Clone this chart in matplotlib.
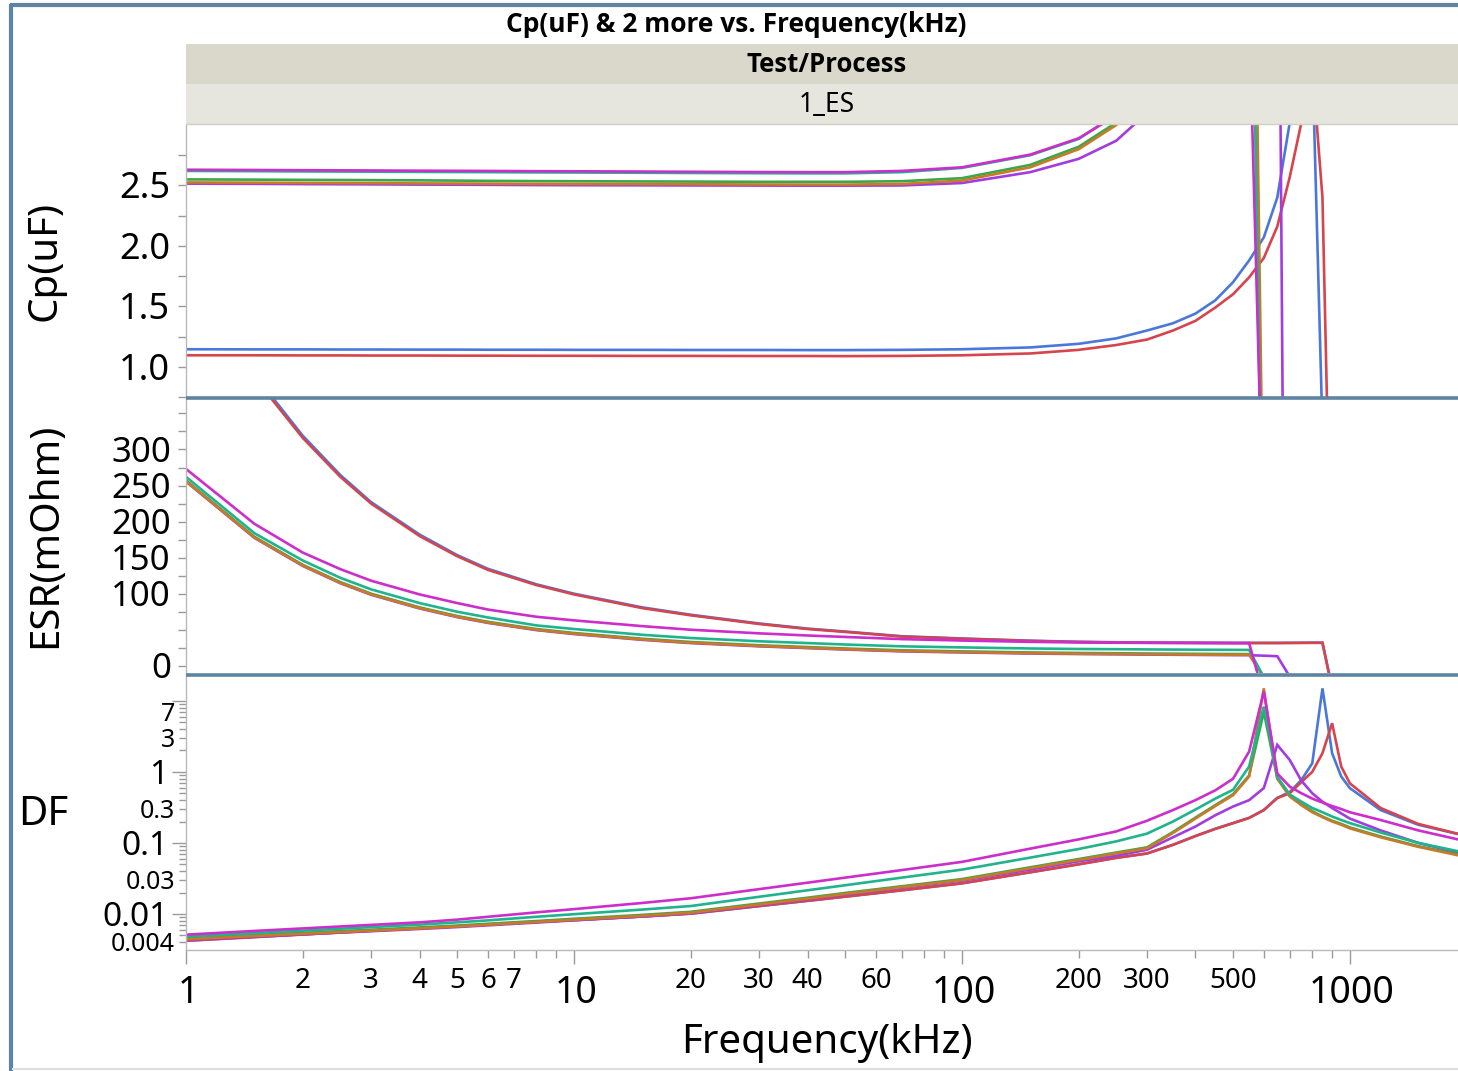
import matplotlib
matplotlib.use("Agg")
import matplotlib.pyplot as plt
from matplotlib.lines import Line2D
from matplotlib.patches import Rectangle
from matplotlib.transforms import offset_copy
from matplotlib.ticker import FixedLocator, NullFormatter

plt.rcParams['font.family'] = ['Noto Sans', 'DejaVu Sans']

W, H, DPI = 1458, 1071, 100

# ---------------- data ----------------
freq_khz = [1, 1.5, 2, 2.5, 3, 4, 5, 6, 8, 10, 15, 20, 30, 40, 50, 70, 100, 150, 200, 250,
            300, 350, 400, 450, 500, 550, 600, 650, 700, 750, 800, 850, 900, 950, 1000, 1200, 1500, 2000]

cp_blue = [1.145, 1.144, 1.144, 1.143, 1.143, 1.142, 1.142, 1.141, 1.141, 1.140, 1.140, 1.139, 1.139, 1.138, 1.138, 1.140, 1.145, 1.160, 1.190, 1.235,
           1.300, 1.360, 1.440, 1.550, 1.700, 1.880, 2.070, 2.400, 3.020, 3.600, 3.580, 0.480, -0.500, -0.900, -0.800, -0.600, -0.450, -0.300]
cp_red = [1.095, 1.095, 1.094, 1.094, 1.093, 1.093, 1.092, 1.092, 1.091, 1.091, 1.090, 1.090, 1.089, 1.089, 1.088, 1.090, 1.095, 1.110, 1.140, 1.180,
          1.225, 1.300, 1.380, 1.490, 1.600, 1.740, 1.900, 2.160, 2.570, 3.020, 3.490, 2.400, -1.200, -2.000, -1.300, -0.700, -0.500, -0.350]
cp_purple = [2.515, 2.513, 2.511, 2.510, 2.509, 2.507, 2.506, 2.505, 2.503, 2.502, 2.501, 2.500, 2.499, 2.498, 2.498, 2.500, 2.520, 2.610, 2.720, 2.870,
             3.100, 3.500, 3.900, 4.300, 4.800, 5.500, 6.100, 6.700, -7.300, -3.500, -2.400, -1.900, -1.600, -1.400, -1.250, -0.900, -0.650, -0.450]
cp_green = [2.550, 2.548, 2.546, 2.545, 2.544, 2.542, 2.540, 2.538, 2.536, 2.535, 2.533, 2.532, 2.530, 2.530, 2.530, 2.535, 2.560, 2.670, 2.820, 3.020,
            3.350, 3.700, 4.100, 4.600, 5.300, 6.400, -1.500, -2.300, -1.800, -1.450, -1.250, -1.100, -1.000, -0.920, -0.860, -0.660, -0.500, -0.360]
cp_orange = [2.525, 2.523, 2.521, 2.520, 2.519, 2.517, 2.516, 2.515, 2.513, 2.512, 2.511, 2.510, 2.508, 2.507, 2.507, 2.512, 2.540, 2.650, 2.800, 3.000,
             3.350, 3.750, 4.200, 4.800, 5.800, 7.850, -0.650, -2.300, -1.800, -1.450, -1.250, -1.100, -1.000, -0.920, -0.860, -0.660, -0.500, -0.360]
cp_teal = [2.620, 2.618, 2.616, 2.615, 2.614, 2.612, 2.611, 2.610, 2.608, 2.607, 2.605, 2.603, 2.601, 2.600, 2.600, 2.610, 2.645, 2.750, 2.885, 3.090,
           3.400, 3.700, 4.000, 4.400, 5.000, 6.000, -1.200, -2.200, -1.700, -1.400, -1.200, -1.050, -0.950, -0.900, -0.850, -0.650, -0.500, -0.350]
cp_magenta = [2.630, 2.628, 2.626, 2.625, 2.624, 2.622, 2.621, 2.620, 2.618, 2.617, 2.615, 2.613, 2.611, 2.610, 2.610, 2.620, 2.650, 2.755, 2.890, 3.080,
              3.300, 3.450, 3.600, 3.750, 3.850, 3.960, -0.540, -2.000, -1.600, -1.300, -1.100, -1.000, -0.900, -0.850, -0.800, -0.600, -0.450, -0.300]

esr_blue = [565, 404, 319, 264.5, 227, 182, 153.5, 134.5, 113, 100, 81, 70.8, 58.7, 51.6, 47.5, 41, 37.9, 34.8, 33.3, 32.6,
            32.3, 32.1, 32.0, 31.9, 31.8, 31.8, 31.8, 31.8, 31.9, 32.0, 32.1, 32.1, -30, -40, -44, -48, -50, -52]
esr_red = [560, 400, 316, 262, 225, 180, 152, 133, 112, 99, 80, 70, 58, 51, 47, 40.5, 37.5, 34.5, 33, 32.3,
           32, 31.8, 31.7, 31.6, 31.5, 31.5, 31.5, 31.5, 31.6, 31.7, 31.8, 31.8, -32, -40, -44, -48, -50, -52]
esr_purple = [255.5, 177.5, 138.5, 114.5, 98.5, 79.5, 67.5, 59.5, 49.5, 44, 36, 31.5, 27, 24.5, 22.5, 20, 18.5, 17, 16.3, 15.9,
              15.5, 15.3, 15.1, 14.9, 14.8, 14.7, 14, 13.3, -15, -28, -33, -35, -36, -37, -38, -39, -40, -41]
esr_green = [257, 179, 140, 116, 100, 81, 69, 61, 51, 45.5, 37.5, 33, 28.5, 26, 24, 21.5, 20, 18.5, 17.8, 17.4,
             17, 16.8, 16.6, 16.4, 16.3, 16.2, -15, -28, -33, -35, -36, -37, -38, -38, -39, -40, -41, -42]
esr_orange = [256, 178, 139, 115, 99, 80, 68, 60, 50, 44.5, 36.5, 32, 27.5, 25, 23, 20.5, 19, 17.5, 16.8, 16.4,
              16, 15.8, 15.6, 15.4, 15.3, 15.2, -15, -28, -33, -35, -36, -37, -38, -38, -39, -40, -41, -42]
esr_teal = [262, 184, 146, 122, 106, 87, 75, 67, 56, 51, 43, 38.5, 34, 31.5, 29.5, 27, 25.5, 24, 23.3, 23,
            22.7, 22.5, 22.3, 22.2, 22.1, 22, -16, -30, -35, -37, -38, -39, -40, -40, -41, -42, -43, -44]
esr_magenta = [273, 197, 157, 134, 118, 99, 87, 78, 68, 63, 55, 50, 45, 42, 40, 37, 35, 33.2, 32.3, 32,
               31.8, 31.7, 31.6, 31.5, 31.4, 31.4, -42, -48, -50, -51, -52, -52, -53, -53, -54, -55, -56, -57]

df_blue = [0.0042, 0.00473, 0.00515, 0.0055, 0.0058, 0.0063, 0.0067, 0.0071, 0.0077, 0.0082, 0.0092, 0.0101, 0.0129, 0.0153, 0.0175, 0.0215, 0.027, 0.0386, 0.050, 0.0617,
           0.071, 0.094, 0.125, 0.158, 0.19, 0.225, 0.29, 0.43, 0.52, 0.77, 1.32, 15.0, 1.83, 0.86, 0.59, 0.29, 0.18, 0.125]
df_red = [0.00418, 0.0047, 0.00512, 0.00547, 0.00577, 0.00627, 0.00667, 0.00707, 0.00767, 0.00817, 0.00917, 0.01007, 0.01287, 0.01527, 0.01747, 0.02147, 0.0269, 0.0385, 0.0499, 0.0615,
          0.0708, 0.0938, 0.1247, 0.1575, 0.1895, 0.2245, 0.289, 0.428, 0.50, 0.72, 1.0, 1.83, 4.85, 1.19, 0.69, 0.31, 0.185, 0.125]
df_purple = [0.0043, 0.00478, 0.00515, 0.00545, 0.0057, 0.00613, 0.00652, 0.0069, 0.00755, 0.0081, 0.0092, 0.0102, 0.0133, 0.016, 0.0187, 0.0233, 0.0294, 0.042, 0.055, 0.066,
             0.080, 0.12, 0.17, 0.245, 0.325, 0.40, 0.59, 2.4, 1.47, 0.75, 0.50, 0.38, 0.31, 0.26, 0.22, 0.15, 0.10, 0.068]
df_green = [0.00453, 0.00503, 0.00541, 0.00572, 0.00598, 0.00644, 0.00685, 0.00726, 0.00793, 0.00853, 0.00968, 0.0107, 0.0140, 0.0169, 0.0197, 0.0245, 0.0309, 0.0453, 0.0592, 0.0731,
            0.0865, 0.142, 0.227, 0.34, 0.485, 0.89, 7.0, 0.82, 0.46, 0.35, 0.28, 0.235, 0.205, 0.185, 0.165, 0.123, 0.09, 0.065]
df_orange = [0.0044, 0.00488, 0.00525, 0.00555, 0.00581, 0.00625, 0.00665, 0.00705, 0.0077, 0.00828, 0.0094, 0.0104, 0.0136, 0.0164, 0.0191, 0.0238, 0.030, 0.044, 0.0575, 0.071,
             0.084, 0.138, 0.22, 0.33, 0.47, 0.86, 15.0, 0.80, 0.45, 0.34, 0.27, 0.23, 0.20, 0.18, 0.16, 0.12, 0.088, 0.063]
df_teal = [0.0048, 0.00536, 0.00581, 0.00618, 0.00652, 0.00706, 0.0076, 0.0081, 0.0091, 0.0099, 0.0115, 0.0129, 0.0174, 0.0215, 0.0253, 0.0324, 0.042, 0.062, 0.082, 0.105,
           0.135, 0.20, 0.295, 0.42, 0.56, 1.19, 8.3, 0.85, 0.48, 0.38, 0.31, 0.27, 0.235, 0.21, 0.19, 0.14, 0.10, 0.072]
df_magenta = [0.0051, 0.00575, 0.00624, 0.00665, 0.0070, 0.0076, 0.0083, 0.0091, 0.0105, 0.01167, 0.01425, 0.0166, 0.0223, 0.0275, 0.0324, 0.0414, 0.054, 0.083, 0.112, 0.145,
              0.205, 0.29, 0.40, 0.55, 0.80, 1.93, 13.5, 0.95, 0.62, 0.50, 0.42, 0.37, 0.33, 0.30, 0.27, 0.21, 0.15, 0.105]

series_names = ['blue', 'red', 'purple', 'green', 'orange', 'teal', 'magenta']
cp_series = [cp_blue, cp_red, cp_purple, cp_green, cp_orange, cp_teal, cp_magenta]
esr_series = [esr_blue, esr_red, esr_purple, esr_green, esr_orange, esr_teal, esr_magenta]
df_series = [df_blue, df_red, df_purple, df_green, df_orange, df_teal, df_magenta]

cp_tick_vals = [1.0, 1.5, 2.0, 2.5]
cp_tick_labels = ['1.0', '1.5', '2.0', '2.5']
esr_tick_vals = [0, 100, 150, 200, 250, 300]
esr_tick_labels = ['0', '100', '150', '200', '250', '300']
df_major_vals = [0.01, 0.1, 1]
df_major_labels = ['0.01', '0.1', '1']
df_minor_vals = [0.004, 0.03, 0.3, 3, 7]
df_minor_labels = ['0.004', '0.03', '0.3', '3', '7']
x_major_vals = [1, 10, 100, 1000]
x_major_labels = ['1', '10', '100', '1000']
x_minor_vals = [2, 3, 4, 5, 6, 7, 20, 30, 40, 60, 200, 300, 500]
x_minor_labels = ['2', '3', '4', '5', '6', '7', '20', '30', '40', '60', '200', '300', '500']

# ---------------- styles ----------------
colors = {'blue': '#4a78da', 'red': '#d6444d', 'purple': '#a23ce0', 'green': '#3aa84a',
          'orange': '#c97a28', 'teal': '#20b38e', 'magenta': '#cc2ecc'}
FRAME = '#5d85a3'
TICKC = '#9a9a9a'
SPINEC = '#b8b8b8'
BOLD_FAMILY = ['Open Sans', 'Lato', 'DejaVu Sans']

fig = plt.figure(figsize=(W / DPI, H / DPI), dpi=DPI)
fig.patch.set_facecolor('white')


def fx(px):
    return px / W


def fy(py):
    return 1 - py / H


def box(left, top, right, bottom):
    return [fx(left), fy(bottom), (right - left) / W, (bottom - top) / H]


ax_cp = fig.add_axes(box(186, 125, 1458, 397))
ax_esr = fig.add_axes(box(186, 399, 1458, 673))
ax_df = fig.add_axes(box(186, 676, 1458, 950))

for ax in (ax_cp, ax_esr, ax_df):
    ax.set_xscale('log')
    ax.set_xlim(1, 1900)
    for s in ('top', 'right'):
        ax.spines[s].set_visible(False)
    ax.spines['left'].set_color(SPINEC)
    ax.spines['left'].set_linewidth(1.0)
    ax.tick_params(axis='y', which='both', direction='out', color=TICKC, width=1,
                   labelleft=False, length=6)

for ax in (ax_cp, ax_esr):
    ax.spines['bottom'].set_visible(False)
    ax.tick_params(axis='x', which='both', bottom=False, labelbottom=False)

ax_df.spines['bottom'].set_color(SPINEC)
ax_df.spines['bottom'].set_linewidth(1.0)
ax_df.xaxis.set_major_locator(FixedLocator(x_major_vals))
minor_x = [m * d for d in (1, 10, 100) for m in range(2, 10)]
ax_df.xaxis.set_minor_locator(FixedLocator(minor_x))
ax_df.xaxis.set_major_formatter(NullFormatter())
ax_df.xaxis.set_minor_formatter(NullFormatter())
ax_df.tick_params(axis='x', which='major', direction='out', length=10, color=TICKC, width=1)
ax_df.tick_params(axis='x', which='minor', direction='out', length=6, color=TICKC, width=1)

# y ranges and ticks
ax_cp.set_ylim(0.75, 3.0)
ax_cp.yaxis.set_major_locator(FixedLocator([0.75, 1.0, 1.25, 1.5, 1.75, 2.0, 2.25, 2.5, 2.75]))
ax_esr.set_ylim(-10, 370)
ax_esr.yaxis.set_major_locator(FixedLocator(list(range(0, 351, 25))))
ax_df.set_yscale('log')
ax_df.set_ylim(0.0031, 22.4)
ax_df.yaxis.set_major_locator(FixedLocator([0.01, 0.1, 1, 10]))
ax_df.yaxis.set_minor_locator(FixedLocator([m * d for d in (0.001, 0.01, 0.1, 1) for m in range(2, 10)]))
ax_df.yaxis.set_major_formatter(NullFormatter())
ax_df.yaxis.set_minor_formatter(NullFormatter())
ax_df.tick_params(axis='y', which='major', length=10)
ax_df.tick_params(axis='y', which='minor', length=5)

# lines
for name, cp, esr, df in zip(series_names, cp_series, esr_series, df_series):
    c = colors[name]
    ax_cp.plot(freq_khz, cp, color=c, lw=1.9, solid_joinstyle='miter')
    ax_esr.plot(freq_khz, esr, color=c, lw=1.9, solid_joinstyle='miter')
    ax_df.plot(freq_khz, df, color=c, lw=1.9, solid_joinstyle='miter')


# tick labels as text
def ylabels(ax, vals, labs, size, right_px):
    dh = 0.714 * size * DPI / 72
    tr = offset_copy(ax.get_yaxis_transform(), fig=fig, x=-(186 - right_px), y=-dh / 2, units='dots')
    for v, s in zip(vals, labs):
        ax.text(0, v, s, transform=tr, ha='right', va='baseline', fontsize=size, clip_on=False)


ylabels(ax_cp, cp_tick_vals, cp_tick_labels, 26, 170)
ylabels(ax_esr, esr_tick_vals, esr_tick_labels, 25, 171)
ylabels(ax_df, df_major_vals, df_major_labels, 24, 168)
ylabels(ax_df, df_minor_vals, df_minor_labels, 18, 175)

tr_major = offset_copy(ax_df.get_xaxis_transform(), fig=fig, x=2, y=-53, units='dots')
for v, s in zip(x_major_vals, x_major_labels):
    ax_df.text(v, 0, s, transform=tr_major, ha='center', va='baseline', fontsize=27, clip_on=False)
tr_minor = offset_copy(ax_df.get_xaxis_transform(), fig=fig, x=0, y=-38, units='dots')
for v, s in zip(x_minor_vals, x_minor_labels):
    ax_df.text(v, 0, s, transform=tr_minor, ha='center', va='baseline', fontsize=20, clip_on=False)

# axis titles
fig.text(fx(46), fy(261), 'Cp(uF)', rotation=90, ha='center', va='center', fontsize=29)
fig.text(fx(46), fy(535), 'ESR(mOhm)', rotation=90, ha='center', va='center', fontsize=29)
fig.text(fx(43), fy(815), 'DF', ha='center', va='center', fontsize=29)
fig.text(fx(827), fy(1043), 'Frequency(kHz)', ha='center', va='center', fontsize=29)

# header bands
fig.add_artist(Rectangle((fx(186), fy(84)), 1 - fx(186), 40 / H, transform=fig.transFigure,
                         facecolor='#dad8ca', edgecolor='none'))
fig.add_artist(Rectangle((fx(186), fy(124)), 1 - fx(186), 40 / H, transform=fig.transFigure,
                         facecolor='#e6e6de', edgecolor='none'))
fig.add_artist(Line2D([fx(186), 1], [fy(124), fy(124)], color='#cfcfc2', lw=1))
fig.text(fx(827), fy(65), 'Test/Process', ha='center', va='center', fontsize=18.5,
         fontweight='bold', family=BOLD_FAMILY)
fig.text(fx(827), fy(105), '1_ES', ha='center', va='center', fontsize=19)
fig.text(fx(736), fy(24), 'Cp(uF) & 2 more vs. Frequency(kHz)', ha='center', va='center',
         fontsize=19, fontweight='bold', family=BOLD_FAMILY)

# panel separators
for yy in (397.5, 674.5):
    fig.add_artist(Line2D([fx(186), 1], [fy(yy), fy(yy)], color=FRAME, lw=2.6, solid_capstyle='butt'))

# outer frame
fig.add_artist(Line2D([fx(11), fx(11)], [fy(4), 0], color=FRAME, lw=3, solid_capstyle='butt'))
fig.add_artist(Line2D([fx(9.5), 1], [fy(5), fy(5)], color=FRAME, lw=3, solid_capstyle='butt'))
fig.add_artist(Line2D([fx(13), 1], [fy(1069), fy(1069)], color='#dedede', lw=1.5))

fig.savefig('out.png', dpi=DPI)
